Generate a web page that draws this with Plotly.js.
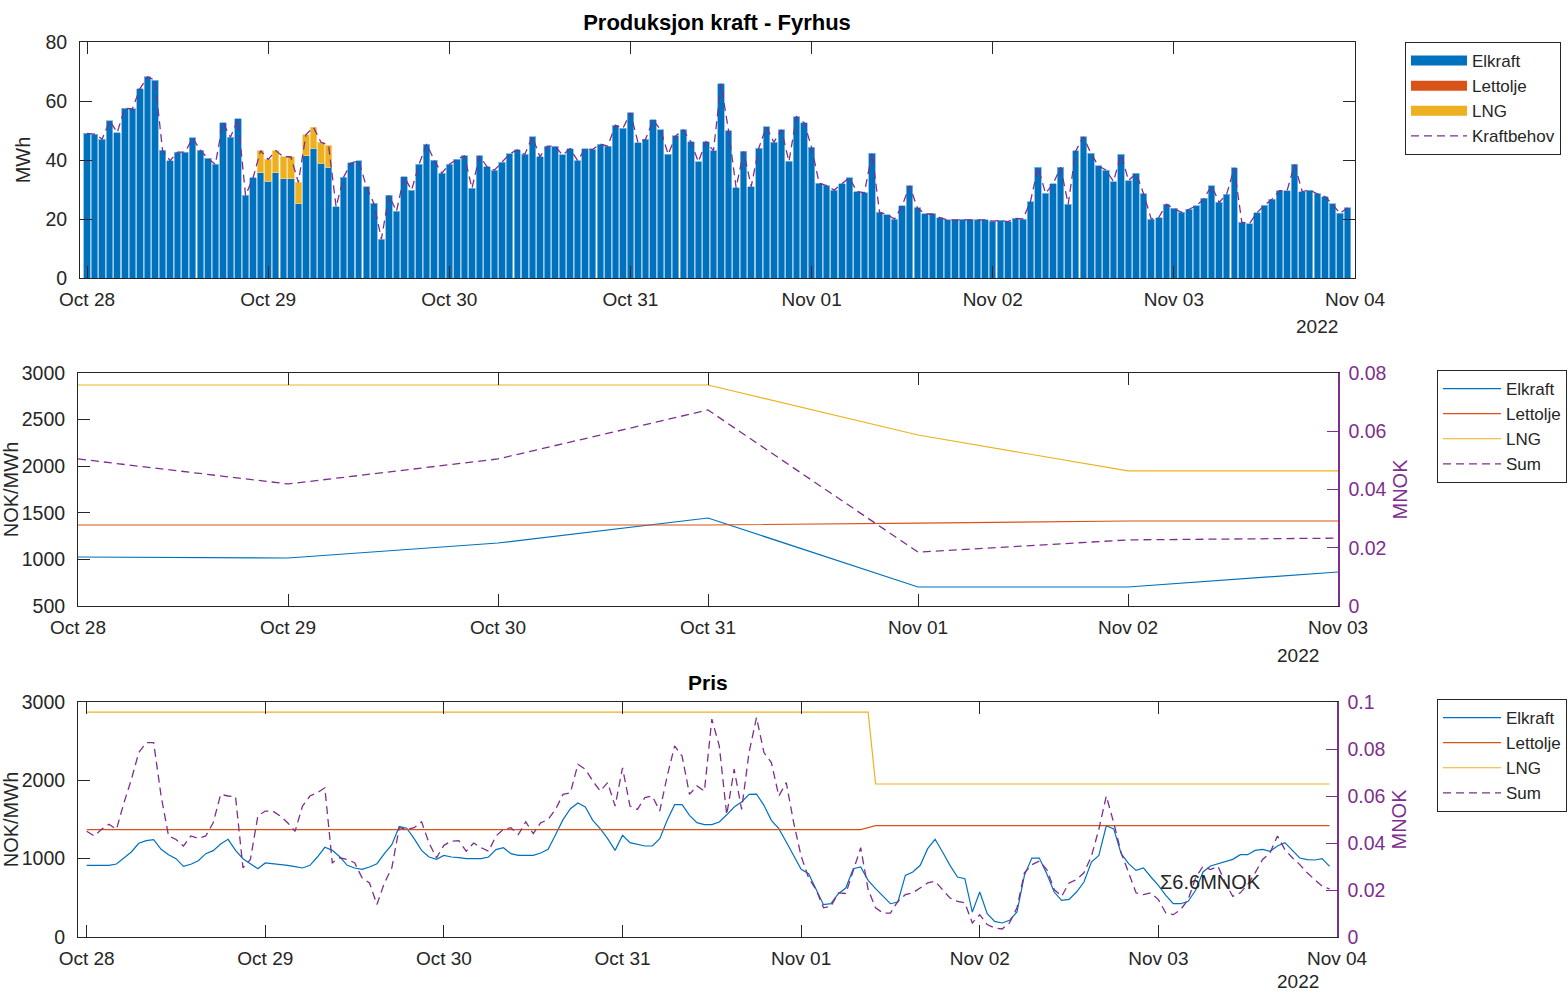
<!DOCTYPE html>
<html>
<head>
<meta charset="utf-8">
<script src="https://cdn.plot.ly/plotly-3.0.1.min.js"></script>
<style>html,body{margin:0;padding:0;background:#fff;}#chart{width:1568px;height:993px;}</style>
</head>
<body>
<div id="chart"></div>
<script>
// ---------- DATA ----------
// Top panel: hourly production (MWh), hour index 0 = 2022-10-28 00:00
const elkraftMWh = [49.0,48.8,47.1,53.3,49.3,57.6,57.3,64.1,68.2,67.1,43.3,39.8,42.7,42.7,47.5,43.3,40.6,38.5,52.7,47.7,53.9,28.0,34.0,
35.7,32.8,35.7,33.7,33.7,25.2,41.5,44.0,38.9,37.6,24.1,34.2,39.0,39.8,31.0,25.3,13.2,28.0,22.6,34.4,29.8,38.6,45.4,39.9,35.5,
38.6,40.2,41.4,30.4,41.4,37.7,36.6,39.3,42.1,43.4,41.9,47.9,41.1,44.7,44.7,41.7,43.8,39.8,43.8,43.6,45.4,44.7,51.8,50.7,
56.0,45.9,47.0,53.6,50.2,41.9,48.2,50.2,46.2,39.4,46.2,43.2,65.8,49.9,30.6,42.9,31.0,44.0,51.3,46.0,50.2,39.5,54.7,52.7,
44.3,32.1,31.3,29.8,31.9,34.0,29.3,28.9,42.3,22.3,21.5,20.0,24.5,31.3,23.8,21.7,21.7,20.5,19.7,19.7,19.9,19.9,19.7,19.7,
19.3,19.5,19.1,20.2,20.0,25.9,37.5,28.7,31.9,37.5,25.0,43.1,47.9,42.3,38.0,36.6,32.7,41.9,33.0,35.5,28.5,20.0,20.5,25.0,
23.6,22.3,23.3,24.5,27.0,31.3,25.6,28.4,37.3,18.9,18.4,22.1,24.7,26.7,29.6,29.6,38.5,29.3,29.8,28.5,27.6,25.1,21.9,23.8];
const lettoljeHours = [0];
const lettoljeMWh = [0];
const lngHours = [23,24,25,26,27,28,29,30,31,32];
const lngMWh = [7.5,7.4,7.5,7.4,7.4,7.2,7.1,7.1,7.1,7.4];
const kraftbehovMWh = [49.0,48.8,47.1,53.3,49.3,57.6,57.3,64.1,68.2,67.1,43.3,39.8,42.7,42.7,47.5,43.3,40.6,38.5,52.7,47.7,53.9,28.0,34.0,
43.2,40.2,43.2,41.1,41.1,32.4,48.6,51.1,46.0,45.0,24.1,34.2,39.0,39.8,31.0,25.3,13.2,28.0,22.6,34.4,29.8,38.6,45.4,39.9,35.5,
38.6,40.2,41.4,30.4,41.4,37.7,36.6,39.3,42.1,43.4,41.9,47.9,41.1,44.7,44.7,41.7,43.8,39.8,43.8,43.6,45.4,44.7,51.8,50.7,
56.0,45.9,47.0,53.6,50.2,41.9,48.2,50.2,46.2,39.4,46.2,43.2,65.8,49.9,30.6,42.9,31.0,44.0,51.3,46.0,50.2,39.5,54.7,52.7,
44.3,32.1,31.3,29.8,31.9,34.0,29.3,28.9,42.3,22.3,21.5,20.0,24.5,31.3,23.8,21.7,21.7,20.5,19.7,19.7,19.9,19.9,19.7,19.7,
19.3,19.5,19.1,20.2,20.0,25.9,37.5,28.7,31.9,37.5,25.0,43.1,47.9,42.3,38.0,36.6,32.7,41.9,33.0,35.5,28.5,20.0,20.5,25.0,
23.6,22.3,23.3,24.5,27.0,31.3,25.6,28.4,37.3,18.9,18.4,22.1,24.7,26.7,29.6,29.6,38.5,29.3,29.8,28.5,27.6,25.1,21.9,23.8];

// Middle panel: daily values
const days = ['2022-10-28','2022-10-29','2022-10-30','2022-10-31','2022-11-01','2022-11-02','2022-11-03'];
const elkraftDaily = [1026,1015,1176,1444,704,704,865];
const lettoljeDaily = [1369,1369,1369,1369,1390,1412,1412];
const lngDaily = [2871,2871,2871,2871,2335,1949,1949];
const sumDaily = [0.0505,0.0419,0.0505,0.0673,0.0185,0.0227,0.0233];

// Bottom panel: hourly price (NOK/MWh) and cost (MNOK)
const elkraftPris = [915,915,915,915,932,1008,1085,1196,1230,1242,1119,1051,1000,902,928,974,1064,1102,1187,1247,1106,1000,936,872,
945,936,923,915,898,881,915,1021,1145,1106,1025,915,881,864,894,936,1064,1179,1410,1388,
1255,1106,1021,991,1042,1021,1013,1000,1000,1000,1021,1115,1140,1064,1042,1042,1042,1072,1119,1306,1498,1638,1710,1660,
1489,1383,1255,1106,1298,1204,1179,1162,1162,1255,1489,1689,1689,1553,1460,1434,1434,1468,1560,
1660,1723,1821,1825,1681,1489,1383,1213,1042,864,808,608,413,425,553,625,872,894,723,617,523,425,447,787,830,915,
1128,1247,1085,915,766,745,319,574,298,200,179,213,319,787,1008,1008,808,
574,468,481,574,702,957,1042,1420,1380,1064,936,851,881,766,659,532,425,425,455,596,830,906,936,957,991,1051,1051,1106,
1119,1094,1162,1204,1106,1008,987,983,1000,902];
const lettoljePrisHours = [0,104,106,167];
const lettoljePris = [1372,1372,1422,1422];
const lngPrisHours = [0,105,106,167];
const lngPris = [2872,2872,1953,1953];
const sumMNOK = [0.045,0.043,0.0458,0.048,0.0458,0.057,0.067,0.0785,0.0827,0.0827,0.060,0.043,0.0415,0.0387,0.043,0.042,0.043,0.0486,
0.0607,0.060,0.0597,0.0294,0.033,0.0515,0.0536,0.0536,0.0515,0.0486,0.045,0.0557,0.060,0.0614,0.0635,0.0316,0.0337,0.033,
0.0316,0.0252,0.023,0.0138,0.023,0.0294,0.0465,0.0458,
0.0465,0.049,0.040,0.0337,0.039,0.0408,0.041,0.0365,0.040,0.038,0.0365,0.043,0.0458,0.0465,0.0436,0.049,0.044,0.0486,
0.050,0.0543,0.0607,0.0614,0.0735,0.0714,0.0664,0.0621,0.0657,0.0557,0.072,0.0557,0.0543,0.0593,0.060,0.0536,0.0685,
0.0813,0.077,0.0607,0.0643,0.0621,0.0927,0.0813,0.052,
0.0714,0.0543,0.0785,0.0934,0.0785,0.0742,0.060,0.0657,0.0486,0.0344,0.0252,0.0202,0.0124,0.0131,0.0188,0.0185,0.028,
0.038,0.0202,0.0124,0.0102,0.0102,0.0152,0.018,0.0188,0.0209,0.023,0.0237,0.0202,0.0166,0.0152,0.0145,0.006,0.0095,
0.0053,0.0038,0.0034,0.006,0.0124,0.0273,0.0308,0.0323,0.0287,
0.0202,0.0173,0.023,0.0244,0.0273,0.0344,0.0458,0.060,0.0486,0.0358,0.0273,0.0188,0.018,0.0188,0.0159,0.0102,0.0095,
0.0117,0.0159,0.0252,0.0301,0.0287,0.0301,0.023,0.0173,0.0188,0.0223,0.0273,0.033,0.0358,0.043,0.0372,0.0337,0.0308,
0.0273,0.0244,0.0216,0.0205];
const sumLabel = 'Σ6.6MNOK';
const sumLabelHour = 144;
const sumLabelPrice = 700;

// ---------- HELPERS ----------
const T0 = Date.UTC(2022, 9, 28, 0, 0, 0);
function hourDate(h) {
  return new Date(T0 + h * 3600000).toISOString().replace('T', ' ').slice(0, 19);
}
const hoursAll = elkraftMWh.map((_, i) => hourDate(i));
const priceHours = elkraftPris.map((_, i) => hourDate(i));

const C_BLUE = '#0072BD', C_ORANGE = '#D95319', C_YELLOW = '#EDB120', C_PURPLE = '#7E2F8E';
const TXT = '#262626';
const FONT = '"Liberation Sans", Arial, Helvetica, sans-serif';
const BARW = 0.86 * 3600000;
const DASH = '8px,5px';

// legend proxy for a bar series (wide swatch like the reference legend)
function barKey(name, color) {
  return {type:'scatter', mode:'lines', name:name, x:[null], y:[null], xaxis:'x', yaxis:'y', legend:'legend',
          line:{color:color, width:16}, hoverinfo:'skip'};
}

const traces = [
  {type:'bar', name:'Elkraft', x:hoursAll, y:elkraftMWh, width:BARW, xaxis:'x', yaxis:'y', showlegend:false,
   marker:{color:C_BLUE, line:{color:'#7fb8e3', width:0.8}}},
  {type:'bar', name:'Lettolje', x:lettoljeHours.map(hourDate), y:lettoljeMWh, width:BARW, xaxis:'x', yaxis:'y', showlegend:false,
   marker:{color:C_ORANGE, line:{width:0}}},
  {type:'bar', name:'LNG', x:lngHours.map(hourDate), y:lngMWh, width:BARW, xaxis:'x', yaxis:'y', showlegend:false,
   marker:{color:C_YELLOW, line:{color:'#f5d27a', width:0.8}}},
  barKey('Elkraft', C_BLUE),
  barKey('Lettolje', C_ORANGE),
  barKey('LNG', C_YELLOW),
  {type:'scatter', mode:'lines', name:'Kraftbehov', x:hoursAll, y:kraftbehovMWh, xaxis:'x', yaxis:'y', legend:'legend',
   line:{color:C_PURPLE, width:1.3, dash:DASH}},

  {type:'scatter', mode:'lines', name:'Elkraft', x:days, y:elkraftDaily, xaxis:'x2', yaxis:'y2', legend:'legend2',
   line:{color:C_BLUE, width:1.2}},
  {type:'scatter', mode:'lines', name:'Lettolje', x:days, y:lettoljeDaily, xaxis:'x2', yaxis:'y2', legend:'legend2',
   line:{color:C_ORANGE, width:1.2}},
  {type:'scatter', mode:'lines', name:'LNG', x:days, y:lngDaily, xaxis:'x2', yaxis:'y2', legend:'legend2',
   line:{color:C_YELLOW, width:1.2}},
  {type:'scatter', mode:'lines', name:'Sum', x:days, y:sumDaily, xaxis:'x2', yaxis:'y3', legend:'legend2',
   line:{color:C_PURPLE, width:1.3, dash:DASH}},

  {type:'scatter', mode:'lines', name:'Elkraft', x:priceHours, y:elkraftPris, xaxis:'x3', yaxis:'y4', legend:'legend3',
   line:{color:C_BLUE, width:1.2}},
  {type:'scatter', mode:'lines', name:'Lettolje', x:lettoljePrisHours.map(hourDate), y:lettoljePris, xaxis:'x3', yaxis:'y4', legend:'legend3',
   line:{color:C_ORANGE, width:1.2}},
  {type:'scatter', mode:'lines', name:'LNG', x:lngPrisHours.map(hourDate), y:lngPris, xaxis:'x3', yaxis:'y4', legend:'legend3',
   line:{color:C_YELLOW, width:1.2}},
  {type:'scatter', mode:'lines', name:'Sum', x:priceHours, y:sumMNOK, xaxis:'x3', yaxis:'y5', legend:'legend3',
   line:{color:C_PURPLE, width:1.3, dash:DASH}}
];

const W = 1568, H = 993;
const px = v => v / W;
const py = v => 1 - v / H;

function xAxis(domain, range, anchor) {
  return {
    type:'date', domain:domain, range:range, anchor:anchor,
    tickmode:'linear', tick0:'2022-10-28', dtick:86400000, tickformat:'%b %d',
    ticks:'inside', ticklen:12, tickcolor:TXT, tickwidth:1,
    showline:true, linecolor:TXT, linewidth:1, mirror:'ticks',
    showgrid:false, zeroline:false, fixedrange:true,
    tickfont:{family:FONT, size:19, color:TXT}, ticklabelstandoff:4
  };
}
function yAxis(domain, range, dtick, anchor, title, mirror) {
  return {
    domain:domain, range:range, dtick:dtick, tick0:0, anchor:anchor,
    ticks:'inside', ticklen:12, tickcolor:TXT, tickwidth:1,
    showline:true, linecolor:TXT, linewidth:1, mirror:mirror,
    showgrid:false, zeroline:false, fixedrange:true,
    tickfont:{family:FONT, size:19.5, color:TXT}, ticklabelstandoff:8,
    title:{text:title, font:{family:FONT, size:20, color:TXT}}
  };
}
function yRight(overlay, range, anchor) {
  return {
    overlaying:overlay, side:'right', anchor:anchor, range:range, dtick:0.02, tick0:0,
    ticks:'inside', ticklen:11, tickcolor:C_PURPLE, tickwidth:1,
    showline:true, linecolor:C_PURPLE, linewidth:1.5,
    showgrid:false, zeroline:false, fixedrange:true,
    tickfont:{family:FONT, size:19.5, color:C_PURPLE}, ticklabelstandoff:5,
    title:{text:'MNOK', font:{family:FONT, size:20, color:C_PURPLE}}
  };
}
function legend(x, y, iw) {
  return {
    x:x, y:y, xanchor:'left', yanchor:'top', bgcolor:'#ffffff',
    bordercolor:TXT, borderwidth:1, font:{family:FONT, size:17, color:TXT},
    tracegroupgap:0, itemwidth:iw, traceorder:'normal'
  };
}

const layout = {
  width:W, height:H, margin:{l:0, r:0, t:0, b:0},
  paper_bgcolor:'#ffffff', plot_bgcolor:'#ffffff',
  font:{family:FONT, color:TXT},
  barmode:'stack', showlegend:true,
  title:{text:'<b>Produksjon kraft - Fyrhus</b>', x:px(717), xanchor:'center', y:py(22), yanchor:'middle',
         font:{family:FONT, size:22, color:'#000000'}},
  xaxis: xAxis([px(80), px(1355)], ['2022-10-27 23:04:00', '2022-11-04 00:00:00'], 'y'),
  yaxis: yAxis([py(278), py(42)], [0, 80], 20, 'x', 'MWh', 'ticks'),
  xaxis2: xAxis([px(78), px(1338)], ['2022-10-28', '2022-11-03'], 'y2'),
  yaxis2: yAxis([py(606), py(373)], [500, 3000], 500, 'x2', 'NOK/MWh', false),
  yaxis3: yRight('y2', [0, 0.08], 'x2'),
  xaxis3: xAxis([px(78), px(1337)], ['2022-10-27 22:50:00', '2022-11-04 00:00:00'], 'y4'),
  yaxis4: yAxis([py(937), py(702)], [0, 3000], 1000, 'x3', 'NOK/MWh', false),
  yaxis5: yRight('y4', [0, 0.1], 'x3'),
  legend: legend(px(1405), py(42), 56),
  legend2: legend(px(1437), py(370), 58),
  legend3: legend(px(1437), py(699), 58),
  annotations: [
    {xref:'paper', yref:'paper', x:px(1317), y:py(326), text:'2022', showarrow:false, xanchor:'center', yanchor:'middle',
     font:{family:FONT, size:19, color:TXT}},
    {xref:'paper', yref:'paper', x:px(1298), y:py(655), text:'2022', showarrow:false, xanchor:'center', yanchor:'middle',
     font:{family:FONT, size:19, color:TXT}},
    {xref:'paper', yref:'paper', x:px(1298), y:py(981), text:'2022', showarrow:false, xanchor:'center', yanchor:'middle',
     font:{family:FONT, size:19, color:TXT}},
    {xref:'paper', yref:'paper', x:px(708), y:py(682), text:'<b>Pris</b>', showarrow:false, xanchor:'center', yanchor:'middle',
     font:{family:FONT, size:21, color:'#000000'}},
    {xref:'x3', yref:'y4', x:hourDate(sumLabelHour), y:sumLabelPrice, text:sumLabel, showarrow:false, xanchor:'left', yanchor:'middle',
     font:{family:FONT, size:20, color:TXT}}
  ]
};

Plotly.newPlot('chart', traces, layout, {staticPlot:true, displayModeBar:false});
</script>
</body>
</html>
